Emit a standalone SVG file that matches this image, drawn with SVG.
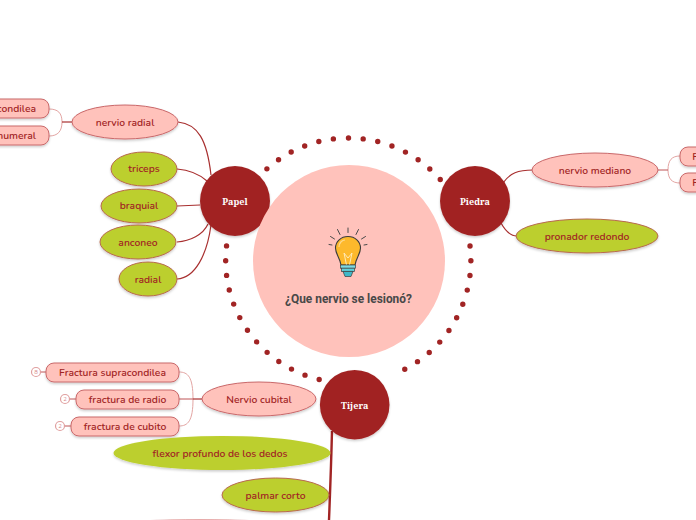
<svg xmlns="http://www.w3.org/2000/svg" width="696" height="520" viewBox="0 0 696 520">
<defs>
<filter id="sh" x="-10%" y="-10%" width="120%" height="130%"><feDropShadow dx="0" dy="1.5" stdDeviation="1.2" flood-color="#000" flood-opacity="0.2"/></filter>
</defs>
<style>
text{font-family:"Nunito","Noto Sans","Open Sans","Liberation Sans",sans-serif;text-anchor:middle;fill:#a12424;font-size:10.3px;font-weight:600}
.pink{fill:#ffc2bb;stroke:#c9686a;stroke-width:1;filter:url(#sh)}
.green{fill:#bccf2e;stroke:#b8694f;stroke-width:1;filter:url(#sh)}
.main{fill:#a12424;filter:url(#sh)}
.mt{font-family:"Noto Serif","DejaVu Serif","Liberation Serif",serif;fill:#fff;font-weight:700;font-size:9px}
.c1{fill:none;stroke:#a82f2f;stroke-width:1.2}
.c2{fill:none;stroke:#e3a5a3;stroke-width:1}
.c3{fill:none;stroke:#a12424;stroke-width:2.4}
.c4{fill:none;stroke:#bf5557;stroke-width:1}
.dots{fill:none;stroke:#a12424;stroke-width:5.4;stroke-linecap:round;stroke-dasharray:0 14.8017}
.badge{fill:#fff;stroke:#e0a0a0;stroke-width:1.2}
.bt{font-size:6px;fill:#d98f8f;font-weight:400}
</style>
<g id="ring">
<path class="dots" d="M348.500 138A122.500 122.500 0 0 1 392.200 374.900"/>
<path class="dots" d="M348.500 383A122.500 122.500 0 0 1 334.200 138.800"/>
</g>
<g id="connectors">
<path class="c1" d="M178 122C198 124 207 140 211 175"/>
<path class="c1" d="M177 169C190 170 199 174 207 181"/>
<path class="c1" d="M177 206L200 205"/>
<path class="c1" d="M177 242C190 241 203 235 208 224"/>
<path class="c1" d="M177 279C195 278 207 255 211 225"/>
<path class="c1" d="M503 183C510 173 518 170 533 170"/>
<path class="c1" d="M501 223C506 232 512 236 517 236"/>
<path class="c2" d="M49 109C58 109 62 113 62 122C62 131 58 136 49 136"/>
<path class="c1" d="M62 122L72 122"/>
<path class="c2" d="M680 156C672 156 668 160 668 170C668 179 672 183 680 183"/>
<path class="c4" d="M658 170L668 170"/>
<path class="c2" d="M179 372C188 372 193 377 193 399C193 421 188 426 179 426"/>
<path class="c4" d="M179 399L193 399"/>
<path class="c1" d="M193 399L202 399"/>
<path class="c4" d="M41 372L46 372M70 399L76 399M65 426L71 426"/>
<path class="c3" d="M332 431C331 470 330 495 329 520"/>
</g>
<g id="node-papel"><circle class="main" cx="235" cy="201" r="35"/><text class="mt" x="235" y="204.500">Papel</text></g>
<g id="node-piedra"><circle class="main" cx="475" cy="201" r="35"/><text class="mt" x="475" y="204.500">Piedra</text></g>
<g id="node-tijera"><circle class="main" cx="354.700" cy="404.700" r="34.800"/><text class="mt" x="354.700" y="409">Tijera</text></g>
<g id="node-center">
<circle cx="349" cy="261" r="96" fill="#ffc2bb"/>
<g fill="none" stroke="#4a4a4a" stroke-width="1" stroke-linecap="round">
<path d="M348 228V232.500M337.500 229.500L340 234.500M358.500 229.500L356 234.500M330.500 236.500L334.500 239M365.500 236.500L361.500 239M329 244.500L332 245M367 244.500L364 245"/>
</g>
<path d="M348 236.500C341 236.500 335.500 241.500 335.500 248C335.500 254 340 258 341 265L355 265C356 258 360.500 254 360.500 248C360.500 241.500 355 236.500 348 236.500Z" fill="#fdb92c" stroke="#3c3c3c" stroke-width="1.100"/>
<path d="M344 253L346.500 265M352 253L349.500 265M344 253L348 258L352 253" fill="none" stroke="#ffeec4" stroke-width="0.900"/>
<path d="M339 247C339 243 342 240 345 240" fill="none" stroke="#ffd98a" stroke-width="1.200"/>
<rect x="340.500" y="265" width="15" height="3.200" fill="#7fdbe4" stroke="#3c3c3c" stroke-width="0.700"/>
<rect x="341.500" y="268.200" width="13" height="3.200" fill="#5fd0dc" stroke="#3c3c3c" stroke-width="0.700"/>
<path d="M343 271.400L353 271.400L351 276.500L345 276.500Z" fill="#3fb8c8" stroke="#3c3c3c" stroke-width="0.700"/>
<text x="348.500" y="303" style="font-family:Roboto,'Liberation Sans',sans-serif;font-size:11.900px;font-weight:700;fill:#484848">¿Que nervio se lesionó?</text>
</g>
<g id="node-radial-n"><ellipse class="pink" cx="125" cy="122" rx="53" ry="17"/><text x="125" y="126">nervio radial</text></g>
<g id="node-condilea"><rect class="pink" x="-60" y="99" width="109" height="19" rx="8"/><text x="36" y="112" style="text-anchor:end">condilea</text></g>
<g id="node-humeral"><rect class="pink" x="-60" y="126" width="109" height="19" rx="8"/><text x="36" y="139" style="text-anchor:end">humeral</text></g>
<g id="node-triceps"><ellipse class="green" cx="144" cy="169" rx="33" ry="17"/><text x="144" y="172">triceps</text></g>
<g id="node-braquial"><ellipse class="green" cx="139" cy="206" rx="38" ry="17"/><text x="139" y="209">braquial</text></g>
<g id="node-anconeo"><ellipse class="green" cx="138" cy="242" rx="38" ry="17"/><text x="138" y="246">anconeo</text></g>
<g id="node-radial"><ellipse class="green" cx="148" cy="279" rx="29" ry="17"/><text x="148" y="283">radial</text></g>
<g id="node-mediano"><ellipse class="pink" cx="595" cy="170" rx="63" ry="17"/><text x="595" y="173.500">nervio mediano</text></g>
<g id="node-r1"><rect class="pink" x="680" y="147" width="60" height="19" rx="8"/><text x="695" y="160">F</text></g>
<g id="node-r2"><rect class="pink" x="680" y="173" width="60" height="19" rx="8"/><text x="695" y="186">F</text></g>
<g id="node-pronador"><ellipse class="green" cx="587" cy="236" rx="71" ry="17"/><text x="587" y="239.500">pronador redondo</text></g>
<g id="node-cubital"><ellipse class="pink" cx="259" cy="399" rx="57" ry="17"/><text x="259" y="403">Nervio cubital</text></g>
<g id="node-supra"><rect class="pink" x="46" y="363" width="133" height="19" rx="8"/><text x="112.500" y="376">Fractura supracondilea</text><circle class="badge" cx="36" cy="372" r="4.500"/><text class="bt" x="36" y="374">8</text></g>
<g id="node-radio"><rect class="pink" x="76" y="390" width="103" height="19" rx="8"/><text x="127.500" y="403">fractura de radio</text><circle class="badge" cx="65" cy="399" r="4.500"/><text class="bt" x="65" y="401">2</text></g>
<g id="node-cubito"><rect class="pink" x="71" y="417" width="108" height="19" rx="8"/><text x="125" y="430">fractura de cubito</text><circle class="badge" cx="60" cy="426" r="4.500"/><text class="bt" x="60" y="428">2</text></g>
<g id="node-flexor"><ellipse class="green" style="stroke:none" cx="222" cy="453" rx="108.500" ry="17"/><text x="220" y="457">flexor profundo de los dedos</text></g>
<g id="node-palmar"><ellipse class="green" cx="275.500" cy="495" rx="53.500" ry="17"/><text x="275.500" y="498.500">palmar corto</text></g>
<g id="node-cut"><ellipse cx="200" cy="537" rx="150" ry="17.500" fill="#ffc2bb" stroke="#c9686a" stroke-opacity="0.450"/></g>
</svg>
